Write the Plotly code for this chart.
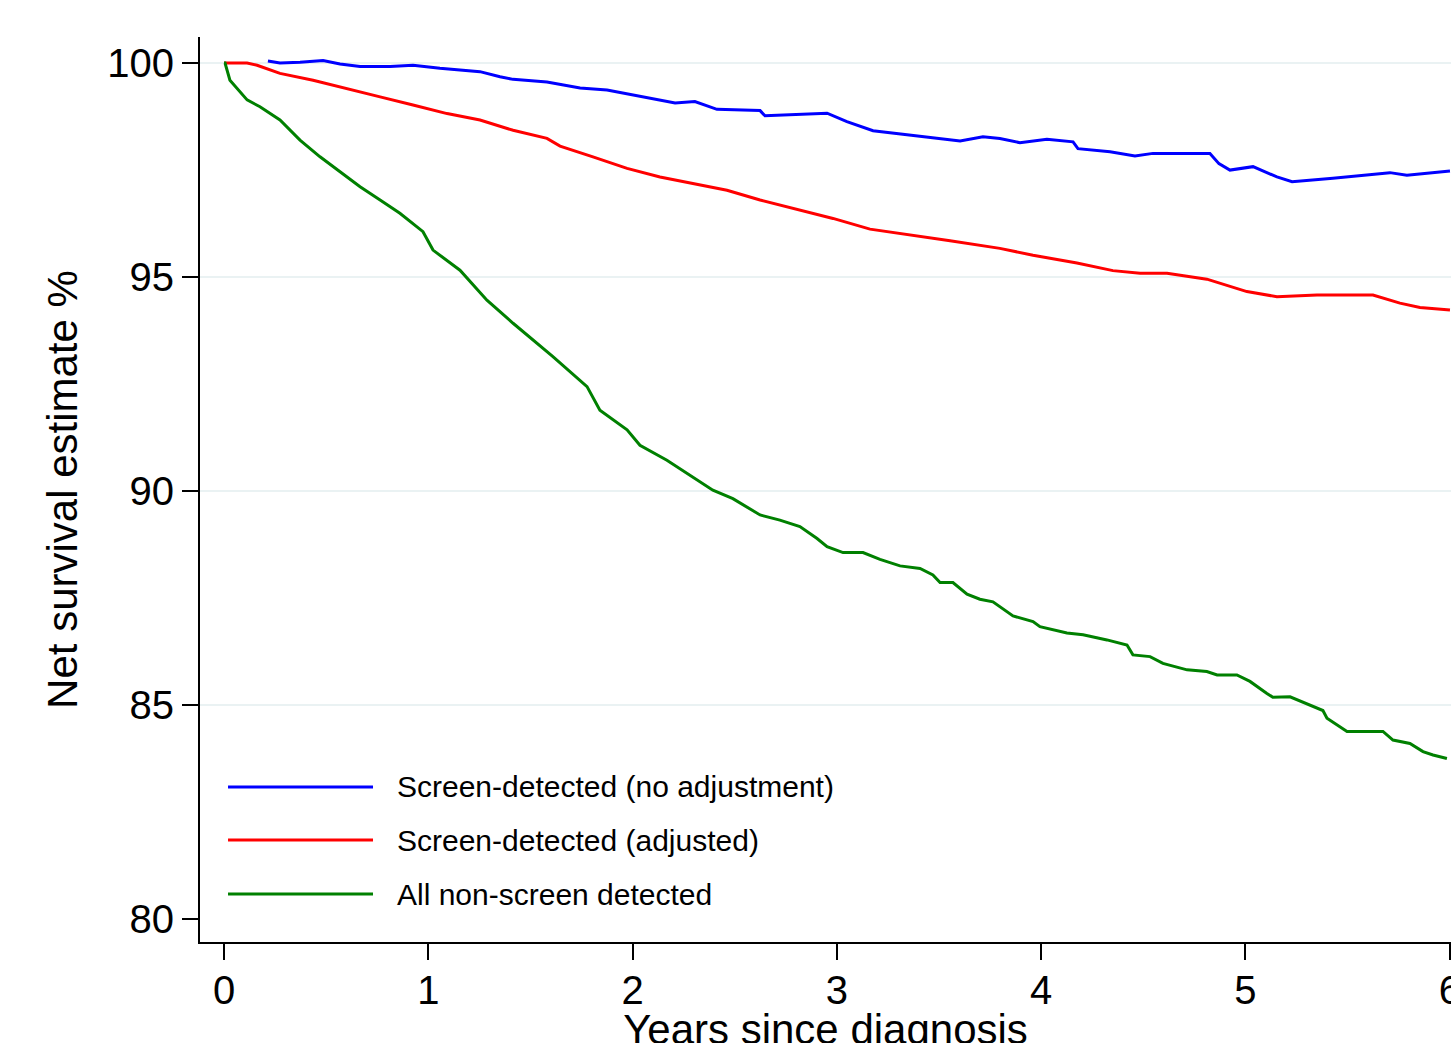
import plotly.graph_objects as go

# ---------------- data ----------------
blue_years = [0.215, 0.274, 0.372, 0.485, 0.568, 0.666, 0.813, 0.925, 1.057, 1.155, 1.253, 1.351, 1.415,
              1.581, 1.743, 1.875, 2.085, 2.208, 2.305, 2.413, 2.624, 2.648, 2.952, 3.049, 3.177,
              3.441, 3.603, 3.715, 3.798, 3.896, 4.028, 4.156, 4.180, 4.337, 4.459, 4.547,
              4.826, 4.870, 4.924, 5.037, 5.154, 5.228, 5.428, 5.707, 5.790, 6.001]
blue_surv = [100.05, 100.00, 100.02, 100.06, 99.98, 99.92, 99.92, 99.95, 99.88, 99.84, 99.80, 99.68, 99.62,
             99.56, 99.42, 99.37, 99.18, 99.07, 99.10, 98.92, 98.89, 98.77, 98.83, 98.63, 98.42,
             98.28, 98.18, 98.28, 98.24, 98.14, 98.22, 98.16, 98.00, 97.93, 97.83, 97.89,
             97.89, 97.65, 97.50, 97.58, 97.34, 97.23, 97.31, 97.44, 97.38, 97.48]

red_years = [0.0, 0.113, 0.162, 0.274, 0.436, 0.602, 0.764, 0.925, 1.092, 1.253, 1.415, 1.581,
             1.645, 1.806, 1.973, 2.134, 2.296, 2.462, 2.624, 2.785, 2.981, 3.162, 3.309, 3.554,
             3.798, 3.960, 4.175, 4.351, 4.484, 4.616, 4.811, 5.007, 5.154, 5.350, 5.624, 5.756,
             5.854, 6.001]
red_surv = [100.00, 100.00, 99.95, 99.76, 99.60, 99.41, 99.21, 99.02, 98.82, 98.67, 98.43, 98.24,
            98.06, 97.81, 97.54, 97.34, 97.19, 97.03, 96.80, 96.60, 96.37, 96.12, 96.02, 95.85,
            95.67, 95.51, 95.33, 95.15, 95.09, 95.09, 94.95, 94.66, 94.54, 94.58, 94.58, 94.39,
            94.29, 94.23]

green_years = [0.0, 0.005, 0.029, 0.113, 0.176, 0.274, 0.372, 0.470, 0.568, 0.666, 0.764, 0.861,
               0.974, 1.023, 1.155, 1.287, 1.415, 1.512, 1.610, 1.777, 1.840, 1.973, 2.036, 2.168,
               2.296, 2.393, 2.491, 2.624, 2.721, 2.819, 2.903, 2.952, 3.030, 3.128, 3.211, 3.309,
               3.407, 3.470, 3.505, 3.568, 3.637, 3.700, 3.764, 3.862, 3.960, 3.994, 4.126, 4.205,
               4.322, 4.420, 4.449, 4.533, 4.596, 4.714, 4.811, 4.861, 4.958, 5.022, 5.105, 5.134,
               5.218, 5.316, 5.379, 5.399, 5.497, 5.673, 5.722, 5.805, 5.869, 5.918, 5.986]
green_surv = [100.00, 100.00, 99.60, 99.14, 98.98, 98.67, 98.20, 97.81, 97.46, 97.11, 96.80, 96.49,
              96.06, 95.63, 95.16, 94.46, 93.92, 93.53, 93.14, 92.44, 91.89, 91.43, 91.07, 90.72,
              90.33, 90.02, 89.82, 89.44, 89.32, 89.17, 88.89, 88.70, 88.56, 88.56, 88.40, 88.25,
              88.19, 88.04, 87.86, 87.86, 87.59, 87.47, 87.41, 87.08, 86.95, 86.83, 86.68, 86.64,
              86.52, 86.40, 86.17, 86.13, 85.97, 85.82, 85.78, 85.70, 85.70, 85.55, 85.27, 85.18,
              85.19, 85.00, 84.87, 84.69, 84.38, 84.38, 84.18, 84.10, 83.91, 83.83, 83.75]

series_names = ["Screen-detected (no adjustment)", "Screen-detected (adjusted)", "All non-screen detected"]
series_colors = ["#0000FF", "#FF0000", "#008000"]

x_tick_vals = [0, 1, 2, 3, 4, 5, 6]
x_tick_text = ["0", "1", "2", "3", "4", "5", "6"]
y_tick_vals = [80, 85, 90, 95, 100]
y_tick_text = ["80", "85", "90", "95", "100"]
grid_vals = [85, 90, 95, 100]

FONT = "Liberation Sans, Arial, sans-serif"

fig = go.Figure()
for xs, ys, name, col in zip([blue_years, red_years, green_years],
                             [blue_surv, red_surv, green_surv],
                             series_names, series_colors):
    fig.add_trace(go.Scatter(x=xs, y=ys, mode="lines", name=name,
                             line=dict(color=col, width=3), showlegend=False))

# light horizontal grid lines
for g in grid_vals:
    fig.add_shape(type="line", xref="paper", yref="y", x0=0, x1=1, y0=g, y1=g,
                  line=dict(color="#EAF2F3", width=2), layer="below")

# manual legend (long line samples like the reference)
leg_y = [0.1713, 0.1127, 0.0530]
for name, col, yy in zip(series_names, series_colors, leg_y):
    fig.add_shape(type="line", xref="paper", yref="paper", x0=0.0224, x1=0.1383, y0=yy, y1=yy,
                  line=dict(color=col, width=3))
    fig.add_annotation(xref="paper", yref="paper", x=0.1559, y=yy, text=name, showarrow=False,
                       xanchor="left", yanchor="middle",
                       font=dict(family=FONT, size=30, color="black"))

# figure is a little taller than the 1043px window so the x title is cut like the reference
fig.update_layout(
    width=1451, height=1053,
    margin=dict(l=200, r=0, t=37, b=111),
    paper_bgcolor="white", plot_bgcolor="white",
    font=dict(family=FONT, color="black"),
    xaxis=dict(range=[-0.1175, 6.006], tickvals=x_tick_vals, ticktext=x_tick_text,
               automargin=False, ticklabeloverflow="allow", ticklabelstandoff=-4,
               showgrid=False, zeroline=False, showline=True, linecolor="black", linewidth=2,
               ticks="outside", ticklen=16, tickwidth=2, tickcolor="black",
               tickfont=dict(family=FONT, size=40, color="black"),
               title=dict(text="Years since diagnosis", font=dict(family=FONT, size=42, color="black"),
                          standoff=11)),
    yaxis=dict(range=[79.46, 100.61], tickvals=y_tick_vals, ticktext=y_tick_text,
               automargin=False,
               showgrid=False, zeroline=False, showline=True, linecolor="black", linewidth=2,
               ticks="outside", ticklen=16, tickwidth=2, tickcolor="black",
               tickfont=dict(family=FONT, size=40, color="black"),
               title=dict(text="Net survival estimate %", font=dict(family=FONT, size=42, color="black"),
                          standoff=17)),
)

fig.write_html("out.html", config={"displayModeBar": False},
               post_script="document.body.style.margin='0';document.body.style.overflow='hidden';")
